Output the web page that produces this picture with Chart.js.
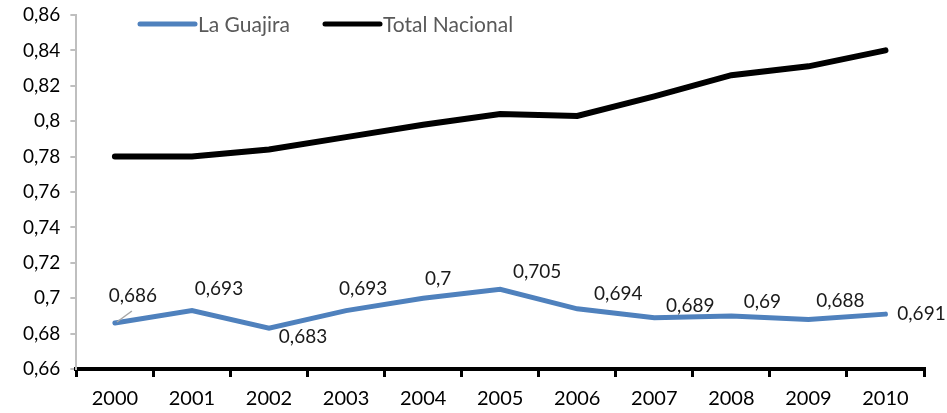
<!DOCTYPE html>
<html lang="es">
<head>
<meta charset="UTF-8" />
<title>La Guajira vs Total Nacional</title>
<script src="https://cdn.jsdelivr.net/npm/chart.js"></script>
<style>
    html, body { margin: 0; padding: 0; background: #fff; }
    #wrap { width: 947px; height: 413px; position: relative; }
</style>
</head>
<body>
<div id="wrap"><canvas id="chart"></canvas></div>
<script>
const years = ["2000", "2001", "2002", "2003", "2004", "2005", "2006", "2007", "2008", "2009", "2010"];
const guajira = [0.686, 0.693, 0.683, 0.693, 0.7, 0.705, 0.694, 0.689, 0.69, 0.688, 0.691];
const nacional = [0.78, 0.78, 0.784, 0.791, 0.798, 0.804, 0.803, 0.814, 0.826, 0.831, 0.84];

const FONT = "Lato, 'Open Sans', sans-serif";
const fmt = (v) => String(Number(v.toFixed(3))).replace(".", ",");

// where each value label sits relative to its point (dx, dy of text centre)
const labelOffsets = [[18, -27], [27, -22], [34, 9], [17, -22], [15, -19], [37, -17],
                      [41, -15], [36, -12], [31, -14], [32, -19], [36, 0]];

const valueLabels = {
    id: "valueLabels",
    afterDatasetsDraw(chart) {
        const ctx = chart.ctx;
        const meta = chart.getDatasetMeta(0);
        ctx.save();
        ctx.font = "19px " + FONT;
        ctx.fillStyle = "#1a1a1a";
        ctx.textAlign = "center";
        ctx.textBaseline = "middle";
        meta.data.forEach((pt, i) => {
            const [dx, dy] = labelOffsets[i];
            ctx.fillText(fmt(guajira[i]), pt.x + dx, pt.y + dy);
        });
        // leader line for the first label
        const p0 = meta.data[0];
        ctx.strokeStyle = "#a6a6a6";
        ctx.lineWidth = 1.5;
        ctx.beginPath();
        ctx.moveTo(p0.x + 2, p0.y - 1);
        ctx.lineTo(p0.x + 17, p0.y - 12);
        ctx.stroke();
        ctx.restore();
    }
};

// legend drawn over the top of the plot area
const topLegend = {
    id: "topLegend",
    afterDraw(chart) {
        const ctx = chart.ctx;
        const items = [
            { x: 140, text: "La Guajira", color: "#4f81bd" },
            { x: 325, text: "Total Nacional", color: "#000000" }
        ];
        ctx.save();
        ctx.font = "21px " + FONT;
        ctx.textBaseline = "middle";
        items.forEach((it) => {
            ctx.strokeStyle = it.color;
            ctx.lineWidth = 5;
            ctx.lineCap = "round";
            ctx.beginPath();
            ctx.moveTo(it.x, 24);
            ctx.lineTo(it.x + 55, 24);
            ctx.stroke();
            ctx.fillStyle = "#595959";
            ctx.fillText(it.text, it.x + 58, 25);
        });
        ctx.restore();
    }
};

new Chart(document.getElementById("chart"), {
    type: "line",
    data: {
        labels: years,
        datasets: [
            {
                label: "La Guajira",
                data: guajira,
                borderColor: "#4f81bd",
                borderWidth: 5,
                borderCapStyle: "round",
                pointRadius: 0,
                tension: 0
            },
            {
                label: "Total Nacional",
                data: nacional,
                borderColor: "#000000",
                borderWidth: 6,
                borderCapStyle: "round",
                pointRadius: 0,
                tension: 0
            }
        ]
    },
    options: {
        responsive: true,
        maintainAspectRatio: false,
        animation: false,
        layout: { padding: { top: 0, right: 23, bottom: 0, left: 13 } },
        plugins: { legend: { display: false }, tooltip: { enabled: false } },
        scales: {
            x: {
                offset: true,
                afterFit: (s) => { s.height = 44; },
                grid: {
                    offset: true,
                    drawOnChartArea: false,
                    drawTicks: true,
                    tickLength: 8,
                    color: "#000",
                    lineWidth: 3
                },
                border: { color: "#000", width: 4 },
                ticks: { color: "#000", font: { family: FONT, size: 20 }, padding: 10, maxRotation: 0 }
            },
            y: {
                min: 0.66,
                max: 0.86,
                afterFit: (s) => { s.paddingTop = 15; s.paddingBottom = 0; },
                grid: {
                    drawOnChartArea: false,
                    drawTicks: true,
                    tickLength: 6,
                    color: "#bfbfbf",
                    lineWidth: 2
                },
                border: { color: "#bfbfbf", width: 2 },
                ticks: {
                    stepSize: 0.02,
                    color: "#000",
                    font: { family: FONT, size: 19 },
                    padding: 10,
                    callback: (v) => fmt(v)
                }
            }
        }
    },
    plugins: [valueLabels, topLegend]
});
</script>
</body>
</html>
